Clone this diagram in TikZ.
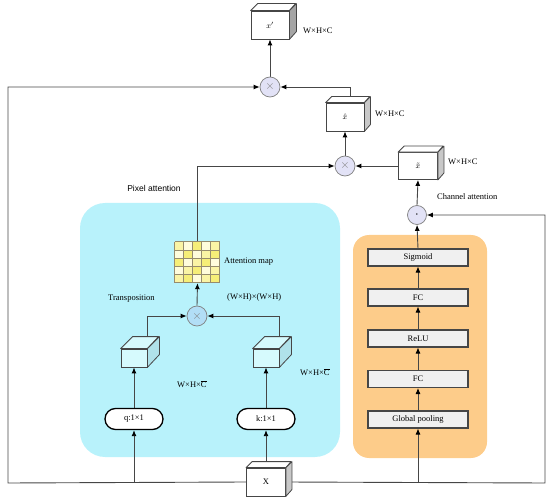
\documentclass[tikz,border=0pt]{standalone}
\usepackage{fontspec}
\setmainfont{Liberation Serif}
\setsansfont{Liberation Sans}
\usetikzlibrary{arrows.meta,shapes.misc,calc}
\pgfdeclarelayer{panel}
\pgfdeclarelayer{wires}
\pgfsetlayers{panel,wires,main}
\definecolor{cyanpanel}{RGB}{184,242,251}
\definecolor{orangepanel}{RGB}{253,204,138}
\definecolor{wire}{RGB}{70,70,70}
\definecolor{lav}{RGB}{226,226,246}
\definecolor{lblue}{RGB}{178,222,246}
\definecolor{cubeside}{RGB}{200,200,200}
\definecolor{cubedark}{RGB}{165,165,165}
\definecolor{cyfront}{RGB}{214,250,253}
\definecolor{cyside}{RGB}{176,226,234}
\definecolor{layerfill}{RGB}{240,240,240}
\definecolor{ylw}{RGB}{246,238,120}
\definecolor{ylwlight}{RGB}{255,252,220}
\definecolor{gridline}{RGB}{150,140,110}
\newcommand{\cubenode}[9]{%
  \node[cubeface, fill=#7, minimum width=#4pt, minimum height=#5pt] (#1) at (#2,#3) {#9};
  \draw[cubeedge, fill=#7] (#1.north west) -- ++(#6,-#6) -- ++(#4,0) -- (#1.north east) -- cycle;
  \draw[cubeedge, fill=#8] (#1.north east) -- ++(#6,-#6) -- ++(0,#5) -- (#1.south east) -- cycle;
}
\begin{document}
\begin{tikzpicture}[x=1pt,y=-1pt,
  font=\fontsize{8.5}{10}\selectfont,
  cubeface/.style={draw=wire, line width=0.8pt, inner sep=0pt, rectangle},
  cubeedge/.style={draw=wire, line width=0.8pt, line join=round},
  opcirc/.style={circle, draw=gray, line width=0.7pt, minimum size=20pt, inner sep=0pt, text=gray},
  layerbox/.style={rectangle, draw=wire, line width=1.1pt, fill=layerfill, minimum width=100pt, minimum height=17pt, inner sep=0pt},
  pill/.style={rounded rectangle, draw=black, line width=1.3pt, fill=white, minimum width=58pt, minimum height=21pt, inner sep=0pt},
  conn/.style={draw=wire, line width=0.9pt},
  arr/.style={conn, -{Latex[length=6pt,width=5pt,color=black]}},
  lbl/.style={anchor=west, inner sep=0pt}
]
\useasboundingbox (0,0) rectangle (550,503);

% panels
\begin{pgfonlayer}{panel}
  \fill[cyanpanel, rounded corners=25pt] (80,203) rectangle (340,457);
  \fill[orangepanel, rounded corners=16pt] (353,235) rectangle (487,458);
\end{pgfonlayer}

% cubes
\cubenode{xp}{270}{25}{38}{28}{7}{white}{cubedark}{$x'$}
\cubenode{xhat}{345}{117}{38}{28}{6}{white}{cubeside}{$\hat{x}$}
\cubenode{xtil}{418}{166}{39}{27}{6}{white}{cubeside}{$\tilde{x}$}
\cubenode{X}{266}{482}{39}{28}{6}{white}{cubeside}{X}
\cubenode{qc}{134}{358}{26}{18}{12}{cyfront}{cyside}{}
\cubenode{kc}{266}{358}{26}{18}{12}{cyfront}{cyside}{}

% operators
\node[opcirc, fill=lav] (c1) at (270,87) {\fontsize{13}{13}\selectfont$\times$};
\node[opcirc, fill=lav] (c2) at (345,166) {\fontsize{13}{13}\selectfont$\times$};
\node[opcirc, fill=lblue] (c3) at (197,316) {\fontsize{13}{13}\selectfont$\times$};
\node[opcirc, fill=lav, minimum size=19pt, text=black] (c4) at (417,215) {\fontsize{6}{6}\selectfont\textbullet};

% pills
\node[pill] (q) at (134,419) {q:1×1};
\node[pill] (k) at (266,419) {k:1×1};

% channel layers
\node[layerbox] (gp) at (418,419.5) {Global pooling};
\node[layerbox] (fca) at (418,379) {FC};
\node[layerbox] (relu) at (418,338.5) {ReLU};
\node[layerbox] (fcb) at (418,297.5) {FC};
\node[layerbox] (sig) at (418,257.5) {Sigmoid};

% attention map grid
\node[rectangle, minimum width=45pt, minimum height=41pt, inner sep=0pt] (grid) at (197.5,262.5) {};
\foreach \r/\row in {0/{1,0,2,0,1},1/{0,2,0,1,2},2/{2,0,1,2,0},3/{0,1,2,0,1},4/{1,2,0,1,2}}{
  \foreach \v [count=\c from 0] in \row {
    \ifnum\v=2 \def\cc{ylw}\else\ifnum\v=1 \def\cc{ylw!55!ylwlight}\else\def\cc{ylwlight}\fi\fi
    \fill[\cc] ($(grid.north west)+(\c*9,\r*8.2)$) rectangle ++(9,8.2);
  }
}
\foreach \i in {0,...,5}{
  \draw[gridline, line width=0.7pt] ($(grid.north west)+(\i*9,0)$) -- ++(0,41);
  \draw[gridline, line width=0.7pt] ($(grid.north west)+(0,\i*8.2)$) -- ++(45,0);
}

% coordinates for free corners
\coordinate (lb) at (8,483);
\coordinate (lt) at (8,87);
\coordinate (rb) at (545,483);
\coordinate (rt) at (545,215);
\coordinate (qb) at (134,483);
\coordinate (gb) at (418,483);

% connectors
\begin{pgfonlayer}{wires}
  \draw[arr] (X.west) -- (lb) -- (lt) -- (c1.west);
  \draw[arr] (X.east) -- (rb) -- (rt) -- (c4.east);
  \draw[arr] (qb) -- (q.south);
  \draw[arr] (gb) -- (gp.south);
  \draw[arr] (X.north) -- (k.south);
  \draw[arr] (q.north) -- (qc.south);
  \draw[arr] (k.north) -- (kc.south);
  \draw[arr] (qc.north east) |- (c3.west);
  \draw[arr] (kc.north east) |- (c3.east);
  \draw[arr] (c3.north) -- (grid.south);
  \draw[arr] (grid.north) |- (c2.west);
  \draw[arr] (xtil.west) -- (c2.east);
  \draw[arr] (c2.north) -- (xhat.south);
  \draw[arr] ([xshift=5pt]xhat.north) |- (c1.east);
  \draw[arr] (c1.north) -- (xp.south);
  \draw[arr] (c4.north) -- (xtil.south);
  \draw[arr] (sig.north) -- (c4.south);
  \draw[arr] (gp.north) -- (fca.south);
  \draw[arr] (fca.north) -- (relu.south);
  \draw[arr] (relu.north) -- (fcb.south);
  \draw[arr] (fcb.north) -- (sig.south);
\end{pgfonlayer}

% labels
\node[lbl] (lxp) at (303,31) {W×H×C};
\node[lbl] (lxhat) at (375,114) {W×H×C};
\node[lbl] (lxtil) at (448,162) {W×H×C};
\node[lbl] (lchan) at (437,197) {Channel attention};
\node[inner sep=0pt, font=\sffamily\fontsize{8.5}{10}\selectfont] (lpix) at (154,188) {Pixel attention};
\node[lbl] (lmap) at (224,262) {Attention map};
\node[lbl] (ltrans) at (108,299) {Transposition};
\node[lbl] (lww) at (227,297) {(W×H)×(W×H)};
\node[lbl] (lq) at (177,384) {W×H×$\overline{\hbox{C}}$};
\node[lbl] (lk) at (300,372) {W×H×$\overline{\hbox{C}}$};
\end{tikzpicture}
\end{document}
